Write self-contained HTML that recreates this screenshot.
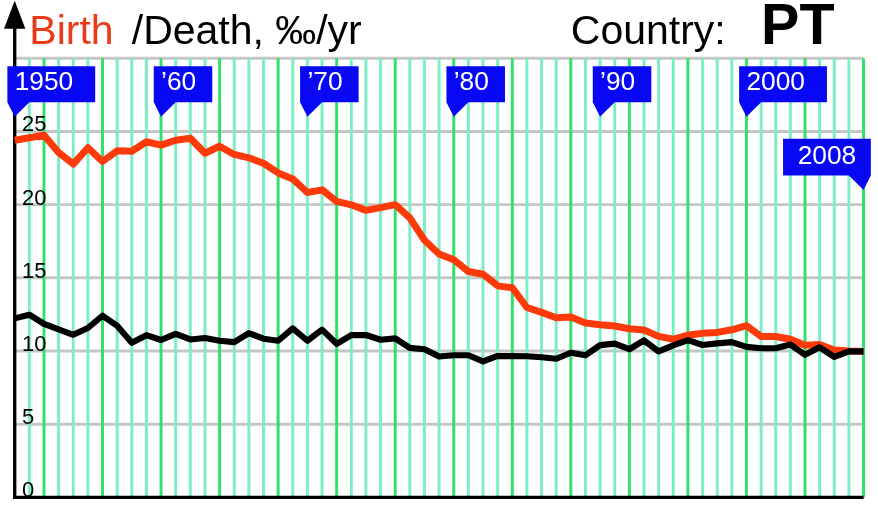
<!DOCTYPE html>
<html><head><meta charset="utf-8"><title>Birth/Death rates PT</title>
<style>
html,body{margin:0;padding:0;background:#fff;}
body{width:878px;height:512px;overflow:hidden;}
svg{display:block;will-change:transform;font-family:"Liberation Sans",sans-serif;}
</style></head><body>
<svg width="878" height="512" viewBox="0 0 878 512">
<line x1="14.7" y1="497.35" x2="863.53" y2="497.35" stroke="#c6c6c6" stroke-width="2.93"/>
<line x1="14.7" y1="424.18" x2="863.53" y2="424.18" stroke="#c6c6c6" stroke-width="2.93"/>
<line x1="14.7" y1="351" x2="863.53" y2="351" stroke="#c6c6c6" stroke-width="2.93"/>
<line x1="14.7" y1="277.83" x2="863.53" y2="277.83" stroke="#c6c6c6" stroke-width="2.93"/>
<line x1="14.7" y1="204.65" x2="863.53" y2="204.65" stroke="#c6c6c6" stroke-width="2.93"/>
<line x1="14.7" y1="131.48" x2="863.53" y2="131.48" stroke="#c6c6c6" stroke-width="2.93"/>
<line x1="14.7" y1="58.3" x2="863.53" y2="58.3" stroke="#c6c6c6" stroke-width="2.93"/>
<line x1="29.34" y1="58.3" x2="29.34" y2="497.35" stroke="#7ceec4" stroke-width="2.93"/>
<line x1="43.97" y1="58.3" x2="43.97" y2="497.35" stroke="#2fe06a" stroke-width="2.93"/>
<line x1="58.61" y1="58.3" x2="58.61" y2="497.35" stroke="#7ceec4" stroke-width="2.93"/>
<line x1="73.24" y1="58.3" x2="73.24" y2="497.35" stroke="#7ceec4" stroke-width="2.93"/>
<line x1="87.88" y1="58.3" x2="87.88" y2="497.35" stroke="#7ceec4" stroke-width="2.93"/>
<line x1="102.51" y1="58.3" x2="102.51" y2="497.35" stroke="#2fe06a" stroke-width="2.93"/>
<line x1="117.14" y1="58.3" x2="117.14" y2="497.35" stroke="#7ceec4" stroke-width="2.93"/>
<line x1="131.78" y1="58.3" x2="131.78" y2="497.35" stroke="#7ceec4" stroke-width="2.93"/>
<line x1="146.41" y1="58.3" x2="146.41" y2="497.35" stroke="#7ceec4" stroke-width="2.93"/>
<line x1="161.05" y1="58.3" x2="161.05" y2="497.35" stroke="#2fe06a" stroke-width="2.93"/>
<line x1="175.68" y1="58.3" x2="175.68" y2="497.35" stroke="#7ceec4" stroke-width="2.93"/>
<line x1="190.32" y1="58.3" x2="190.32" y2="497.35" stroke="#7ceec4" stroke-width="2.93"/>
<line x1="204.95" y1="58.3" x2="204.95" y2="497.35" stroke="#7ceec4" stroke-width="2.93"/>
<line x1="219.59" y1="58.3" x2="219.59" y2="497.35" stroke="#2fe06a" stroke-width="2.93"/>
<line x1="234.22" y1="58.3" x2="234.22" y2="497.35" stroke="#7ceec4" stroke-width="2.93"/>
<line x1="248.86" y1="58.3" x2="248.86" y2="497.35" stroke="#7ceec4" stroke-width="2.93"/>
<line x1="263.5" y1="58.3" x2="263.5" y2="497.35" stroke="#7ceec4" stroke-width="2.93"/>
<line x1="278.13" y1="58.3" x2="278.13" y2="497.35" stroke="#2fe06a" stroke-width="2.93"/>
<line x1="292.76" y1="58.3" x2="292.76" y2="497.35" stroke="#7ceec4" stroke-width="2.93"/>
<line x1="307.4" y1="58.3" x2="307.4" y2="497.35" stroke="#7ceec4" stroke-width="2.93"/>
<line x1="322.03" y1="58.3" x2="322.03" y2="497.35" stroke="#7ceec4" stroke-width="2.93"/>
<line x1="336.67" y1="58.3" x2="336.67" y2="497.35" stroke="#2fe06a" stroke-width="2.93"/>
<line x1="351.31" y1="58.3" x2="351.31" y2="497.35" stroke="#7ceec4" stroke-width="2.93"/>
<line x1="365.94" y1="58.3" x2="365.94" y2="497.35" stroke="#7ceec4" stroke-width="2.93"/>
<line x1="380.57" y1="58.3" x2="380.57" y2="497.35" stroke="#7ceec4" stroke-width="2.93"/>
<line x1="395.21" y1="58.3" x2="395.21" y2="497.35" stroke="#2fe06a" stroke-width="2.93"/>
<line x1="409.84" y1="58.3" x2="409.84" y2="497.35" stroke="#7ceec4" stroke-width="2.93"/>
<line x1="424.48" y1="58.3" x2="424.48" y2="497.35" stroke="#7ceec4" stroke-width="2.93"/>
<line x1="439.12" y1="58.3" x2="439.12" y2="497.35" stroke="#7ceec4" stroke-width="2.93"/>
<line x1="453.75" y1="58.3" x2="453.75" y2="497.35" stroke="#2fe06a" stroke-width="2.93"/>
<line x1="468.38" y1="58.3" x2="468.38" y2="497.35" stroke="#7ceec4" stroke-width="2.93"/>
<line x1="483.02" y1="58.3" x2="483.02" y2="497.35" stroke="#7ceec4" stroke-width="2.93"/>
<line x1="497.65" y1="58.3" x2="497.65" y2="497.35" stroke="#7ceec4" stroke-width="2.93"/>
<line x1="512.29" y1="58.3" x2="512.29" y2="497.35" stroke="#2fe06a" stroke-width="2.93"/>
<line x1="526.93" y1="58.3" x2="526.93" y2="497.35" stroke="#7ceec4" stroke-width="2.93"/>
<line x1="541.56" y1="58.3" x2="541.56" y2="497.35" stroke="#7ceec4" stroke-width="2.93"/>
<line x1="556.2" y1="58.3" x2="556.2" y2="497.35" stroke="#7ceec4" stroke-width="2.93"/>
<line x1="570.83" y1="58.3" x2="570.83" y2="497.35" stroke="#2fe06a" stroke-width="2.93"/>
<line x1="585.47" y1="58.3" x2="585.47" y2="497.35" stroke="#7ceec4" stroke-width="2.93"/>
<line x1="600.1" y1="58.3" x2="600.1" y2="497.35" stroke="#7ceec4" stroke-width="2.93"/>
<line x1="614.74" y1="58.3" x2="614.74" y2="497.35" stroke="#7ceec4" stroke-width="2.93"/>
<line x1="629.37" y1="58.3" x2="629.37" y2="497.35" stroke="#2fe06a" stroke-width="2.93"/>
<line x1="644" y1="58.3" x2="644" y2="497.35" stroke="#7ceec4" stroke-width="2.93"/>
<line x1="658.64" y1="58.3" x2="658.64" y2="497.35" stroke="#7ceec4" stroke-width="2.93"/>
<line x1="673.28" y1="58.3" x2="673.28" y2="497.35" stroke="#7ceec4" stroke-width="2.93"/>
<line x1="687.91" y1="58.3" x2="687.91" y2="497.35" stroke="#2fe06a" stroke-width="2.93"/>
<line x1="702.55" y1="58.3" x2="702.55" y2="497.35" stroke="#7ceec4" stroke-width="2.93"/>
<line x1="717.18" y1="58.3" x2="717.18" y2="497.35" stroke="#7ceec4" stroke-width="2.93"/>
<line x1="731.82" y1="58.3" x2="731.82" y2="497.35" stroke="#7ceec4" stroke-width="2.93"/>
<line x1="746.45" y1="58.3" x2="746.45" y2="497.35" stroke="#2fe06a" stroke-width="2.93"/>
<line x1="761.09" y1="58.3" x2="761.09" y2="497.35" stroke="#7ceec4" stroke-width="2.93"/>
<line x1="775.72" y1="58.3" x2="775.72" y2="497.35" stroke="#7ceec4" stroke-width="2.93"/>
<line x1="790.36" y1="58.3" x2="790.36" y2="497.35" stroke="#7ceec4" stroke-width="2.93"/>
<line x1="804.99" y1="58.3" x2="804.99" y2="497.35" stroke="#2fe06a" stroke-width="2.93"/>
<line x1="819.62" y1="58.3" x2="819.62" y2="497.35" stroke="#7ceec4" stroke-width="2.93"/>
<line x1="834.26" y1="58.3" x2="834.26" y2="497.35" stroke="#7ceec4" stroke-width="2.93"/>
<line x1="848.89" y1="58.3" x2="848.89" y2="497.35" stroke="#7ceec4" stroke-width="2.93"/>
<line x1="863.53" y1="58.3" x2="863.53" y2="497.35" stroke="#2fe06a" stroke-width="2.93"/>
<text x="22.02" y="497.35" font-size="21.95">0</text>
<text x="22.02" y="424.18" font-size="21.95">5</text>
<text x="22.02" y="351" font-size="21.95">10</text>
<text x="22.02" y="277.83" font-size="21.95">15</text>
<text x="22.02" y="204.65" font-size="21.95">20</text>
<text x="22.02" y="131.48" font-size="21.95">25</text>
<line x1="14.7" y1="499.03" x2="14.7" y2="21.71" stroke="#000" stroke-width="3.37"/>
<polygon points="4.02,28.74 25.38,28.74 14.7,0.78" fill="#000"/>
<line x1="13.02" y1="497.35" x2="863.53" y2="497.35" stroke="#000" stroke-width="3.37"/>
<polyline points="14.7,140.26 29.34,137.77 43.97,135.28 58.61,152.55 73.24,164.11 87.88,147.72 102.51,161.48 117.14,150.79 131.78,151.23 146.41,141.72 161.05,145.09 175.68,140.26 190.32,138.21 204.95,153.28 219.59,146.26 234.22,154.45 248.86,157.82 263.5,163.23 278.13,172.89 292.76,178.89 307.4,192.5 322.03,189.87 336.67,201.43 351.31,204.8 365.94,210.36 380.57,207.58 395.21,204.65 409.84,217.82 424.48,240.21 439.12,253.97 453.75,259.82 468.38,271.53 483.02,274.31 497.65,285.87 512.29,287.78 526.93,307.53 541.56,312.36 556.2,317.78 570.83,317.05 585.47,322.9 600.1,324.66 614.74,325.97 629.37,328.75 644,330.07 658.64,336.37 673.28,339.29 687.91,335.19 702.55,333.15 717.18,332.41 731.82,329.78 746.45,325.68 761.09,336.51 775.72,336.51 790.36,339.29 804.99,345.29 819.62,344.56 834.26,349.98 848.89,351 863.53,351.44" fill="none" stroke="#ff3a0a" stroke-width="7.02" stroke-linejoin="round" stroke-linecap="butt"/>
<polyline points="14.7,318.36 29.34,314.71 43.97,323.93 58.61,329.34 73.24,334.76 87.88,328.02 102.51,315.73 117.14,325.83 131.78,342.8 146.41,335.19 161.05,340.02 175.68,333.88 190.32,339.44 204.95,337.97 219.59,340.76 234.22,342.07 248.86,333.15 263.5,338.71 278.13,340.76 292.76,328.46 307.4,340.76 322.03,329.63 336.67,343.83 351.31,335.05 365.94,335.05 380.57,339.73 395.21,338.41 409.84,347.93 424.48,349.24 439.12,356.56 453.75,355.24 468.38,355.24 483.02,361.39 497.65,355.98 512.29,356.12 526.93,356.27 541.56,357.29 556.2,358.76 570.83,352.76 585.47,355.24 600.1,345.15 614.74,343.68 629.37,349.24 644,340.46 658.64,351.44 673.28,345.44 687.91,340.17 702.55,345 717.18,343.39 731.82,342.07 746.45,346.9 761.09,348.22 775.72,348.22 790.36,344.41 804.99,354.81 819.62,347.34 834.26,356.85 848.89,351.44 863.53,351.44" fill="none" stroke="#000" stroke-width="6.15" stroke-linejoin="round" stroke-linecap="butt"/>
<polygon points="7.38,66.35 95.19,66.35 95.19,102.21 29.34,102.21 14.7,116.84 7.38,102.21" fill="#0808f4"/>
<text x="14.7" y="90.35" font-size="26.34" fill="#fff">1950</text>
<polygon points="153.73,66.35 212.27,66.35 212.27,102.21 175.68,102.21 161.05,116.84 153.73,102.21" fill="#0808f4"/>
<text x="161.05" y="90.35" font-size="26.34" fill="#fff">’60</text>
<polygon points="300.08,66.35 358.62,66.35 358.62,102.21 322.03,102.21 307.4,116.84 300.08,102.21" fill="#0808f4"/>
<text x="307.4" y="90.35" font-size="26.34" fill="#fff">’70</text>
<polygon points="446.43,66.35 504.97,66.35 504.97,102.21 468.38,102.21 453.75,116.84 446.43,102.21" fill="#0808f4"/>
<text x="453.75" y="90.35" font-size="26.34" fill="#fff">’80</text>
<polygon points="592.78,66.35 651.32,66.35 651.32,102.21 614.74,102.21 600.1,116.84 592.78,102.21" fill="#0808f4"/>
<text x="600.1" y="90.35" font-size="26.34" fill="#fff">’90</text>
<polygon points="739.13,66.35 826.94,66.35 826.94,102.21 761.09,102.21 746.45,116.84 739.13,102.21" fill="#0808f4"/>
<text x="746.45" y="90.35" font-size="26.34" fill="#fff">2000</text>
<polygon points="783.04,138.79 870.85,138.79 870.85,175.38 863.53,190.02 848.89,175.38 783.04,175.38" fill="#0808f4"/>
<text x="797.67" y="163.53" font-size="26.34" fill="#fff">2008</text>
<text x="29.34" y="43.7" font-size="40.98" fill="#ea3a1a">Birth</text>
<text x="131.78" y="43.7" font-size="40.98">/Death, ‰/yr</text>
<text x="570.83" y="43.7" font-size="40.98">Country:</text>
<text x="761.09" y="43.7" font-size="57.5" font-weight="bold">PT</text>
</svg>
</body></html>
